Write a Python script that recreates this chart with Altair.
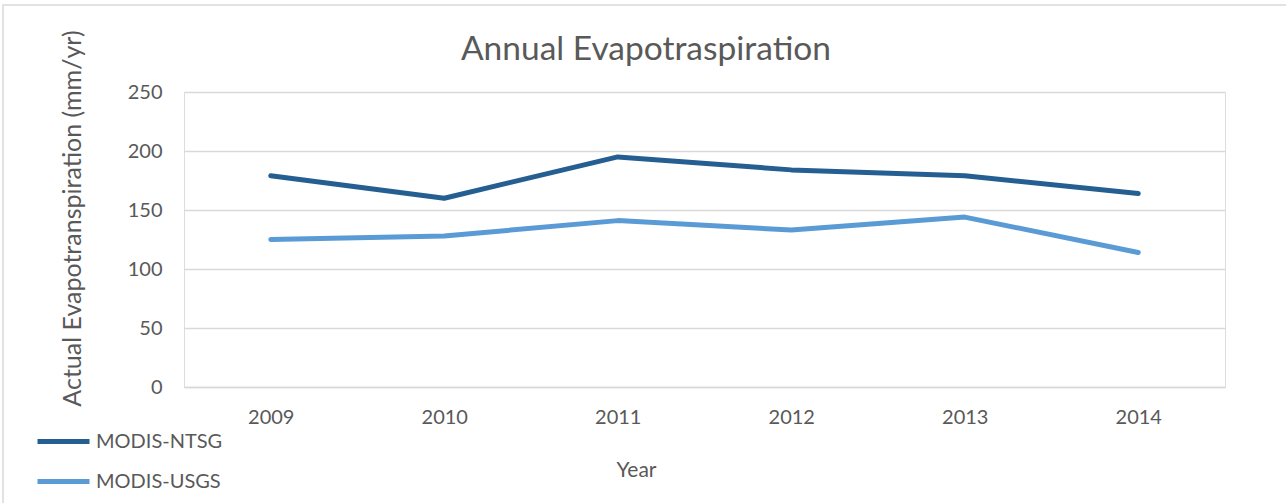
import altair as alt
import pandas as pd

years = ["2009", "2010", "2011", "2012", "2013", "2014"]
ntsg = [179, 160, 195, 184, 179, 164]
usgs = [125, 128, 141, 133, 144, 114]
series_names = ["MODIS-NTSG", "MODIS-USGS"]
series_colors = ["#255E91", "#5B9BD5"]
title_text = ["Annual Evapotraspiration"]

rows = []
for y, v in zip(years, ntsg):
    rows.append({"Year": y, "Value": v, "Series": series_names[0]})
for y, v in zip(years, usgs):
    rows.append({"Year": y, "Value": v, "Series": series_names[1]})
df = pd.DataFrame(rows)

FONT = "Lato"
GREY = "#595959"
GRID = "#D9D9D9"

lines = alt.Chart(df).mark_line(strokeWidth=5, strokeCap="round", strokeJoin="round").encode(
    x=alt.X("Year:N", sort=years,
            scale=alt.Scale(type="point", padding=0.5),
            axis=alt.Axis(title="Year", labelAngle=0, labelFontSize=20, labelColor=GREY,
                          labelFont=FONT, labelPadding=20, ticks=False, domain=True,
                          domainColor=GRID, domainWidth=1.5, grid=False,
                          titleFont=FONT, titleFontSize=21, titleColor=GREY,
                          titleFontWeight="normal", titleX=452, titleY=83,
                          titleAlign="center", titleBaseline="middle")),
    y=alt.Y("Value:Q", scale=alt.Scale(domain=[0, 250]),
            axis=alt.Axis(title="Actual Evapotranspiration (mm/yr)", values=[0, 50, 100, 150, 200, 250],
                          labelFontSize=20, labelColor=GREY, labelFont=FONT, labelPadding=22,
                          ticks=False, domain=False, grid=True, gridColor=GRID, gridWidth=1.5,
                          titleFont=FONT, titleFontSize=25, titleColor=GREY,
                          titleFontWeight="normal", titleX=-112, titleY=126,
                          titleAngle=-90, titleAlign="center", titleBaseline="middle")),
    color=alt.Color("Series:N", sort=series_names,
                    scale=alt.Scale(domain=series_names, range=series_colors),
                    legend=alt.Legend(title=None, orient="none", legendX=-143, legendY=327,
                                      direction="vertical", symbolType="M-1.3,0H1.3",
                                      symbolSize=1600, symbolStrokeWidth=5,
                                      labelFont=FONT, labelFontSize=20, labelColor=GREY,
                                      labelOffset=10, rowPadding=7)),
)

frame = alt.Chart(pd.DataFrame({"k": [0]})).mark_rect(
    fill=None, stroke=GRID, strokeWidth=1.5
).encode(
    x=alt.value(-181), x2=alt.value(1110),
    y=alt.value(-87), y2=alt.value(420),
)

title = alt.Chart(pd.DataFrame({"t": title_text})).mark_text(
    font=FONT, fontSize=33.5, color=GREY, align="center", baseline="alphabetic"
).encode(
    text="t:N", x=alt.value(462), y=alt.value(-32),
)

chart = alt.layer(frame, lines, title).properties(
    width=1041, height=295,
    padding={"left": 184, "top": 92, "right": 61, "bottom": 116},
    autosize=alt.AutoSizeParams(type="none"),
).configure_view(strokeOpacity=0).configure(background="white")

chart.save("out.html", embed_options={"renderer": "svg", "actions": False})
